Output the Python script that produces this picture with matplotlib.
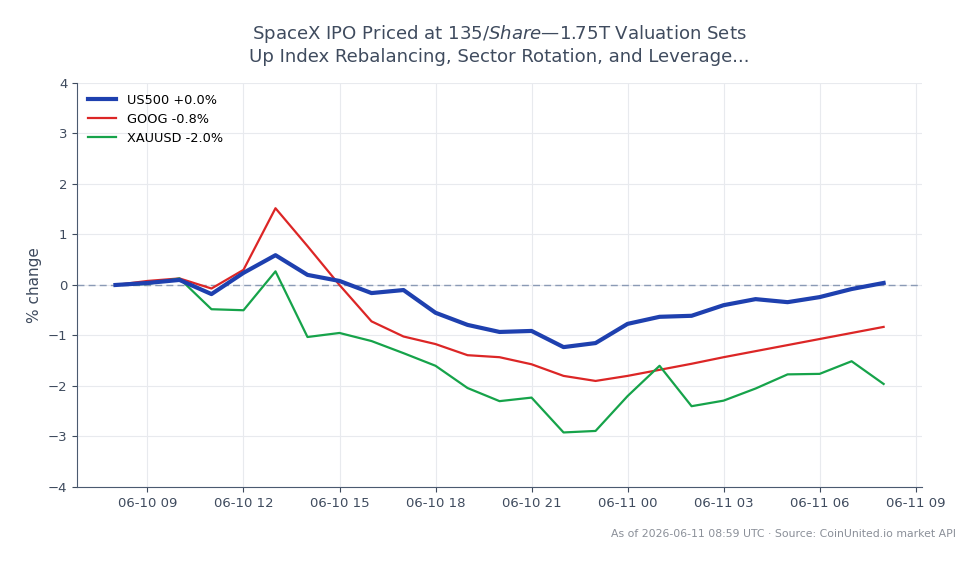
#!/usr/bin/env python3
"""Hourly % change chart: US500 vs GOOG vs XAUUSD."""
import numpy as np
import pandas as pd
import matplotlib
matplotlib.use("Agg")
import matplotlib.pyplot as plt
import matplotlib.dates as mdates

# Hourly timestamps, 2026-06-10 08:00 -> 2026-06-11 08:00 UTC
times = pd.date_range("2026-06-10 08:00", "2026-06-11 08:00", freq="h")

us500 = [0.00, 0.04, 0.10, -0.18, 0.24, 0.59, 0.20, 0.08, -0.16, -0.10,
         -0.55, -0.79, -0.93, -0.91, -1.23, -1.15, -0.77, -0.63, -0.61,
         -0.40, -0.28, -0.34, -0.24, -0.08, 0.04]
goog = [0.00, 0.08, 0.13, -0.07, 0.30, 1.52, 0.77, 0.00, -0.72, -1.02,
        -1.17, -1.39, -1.43, -1.57, -1.80, -1.90, -1.80, -1.68, -1.56,
        -1.43, -1.31, -1.19, -1.07, -0.95, -0.83]
xauusd = [0.00, 0.02, 0.13, -0.48, -0.50, 0.27, -1.03, -0.95, -1.11, -1.35,
          -1.60, -2.04, -2.30, -2.23, -2.92, -2.89, -2.20, -1.60, -2.40,
          -2.29, -2.05, -1.77, -1.76, -1.51, -1.96]

TITLE = ("SpaceX IPO Priced at $135/Share—$1.75T Valuation Sets\n"
         "Up Index Rebalancing, Sector Rotation, and Leverage...")
FOOTER = "As of 2026-06-11 08:59 UTC · Source: CoinUnited.io market API"

TEXT = "#3f4b5e"
plt.rcParams["font.family"] = ["DejaVu Sans"]

fig = plt.figure(figsize=(9.79, 5.63), dpi=100)
ax = fig.add_axes([0.0787, 0.135, 0.8631, 0.7176])

ax.plot(times, us500, color="#1e40af", lw=3.0, label=f"US500 {us500[-1]:+.1f}%", zorder=4)
ax.plot(times, goog, color="#dc2626", lw=1.6, label=f"GOOG {goog[-1]:+.1f}%", zorder=3)
ax.plot(times, xauusd, color="#16a34a", lw=1.6, label=f"XAUUSD {xauusd[-1]:+.1f}%", zorder=3)
ax.axhline(0, color="#8a9ab5", lw=1.0, ls=(0, (5, 3)), zorder=2)

ax.set_ylim(-4, 4)
ax.set_yticks(np.arange(-4, 5, 1))
ax.xaxis.set_major_locator(mdates.HourLocator(byhour=range(0, 24, 3)))
ax.xaxis.set_major_formatter(mdates.DateFormatter("%m-%d %H"))

ax.grid(True, color="#e8eaee", lw=0.8)
ax.set_axisbelow(True)
for side in ("top", "right"):
    ax.spines[side].set_visible(False)
for side in ("left", "bottom"):
    ax.spines[side].set_color("#4b5a70")
ax.tick_params(colors=TEXT, labelsize=9.5, length=3.5)
ax.set_ylabel("% change", color=TEXT, fontsize=11)

ax.set_title(TITLE, color=TEXT, fontsize=13.1, pad=15, linespacing=1.25)

ax.legend(loc="upper left", frameon=False, fontsize=9.3,
          handlelength=2.2, borderaxespad=0.45, labelspacing=0.45)

fig.text(0.976, 0.051, FOOTER, ha="right", va="center", fontsize=7.8, color="#8a8f98")

fig.savefig("out.png", dpi=100)
